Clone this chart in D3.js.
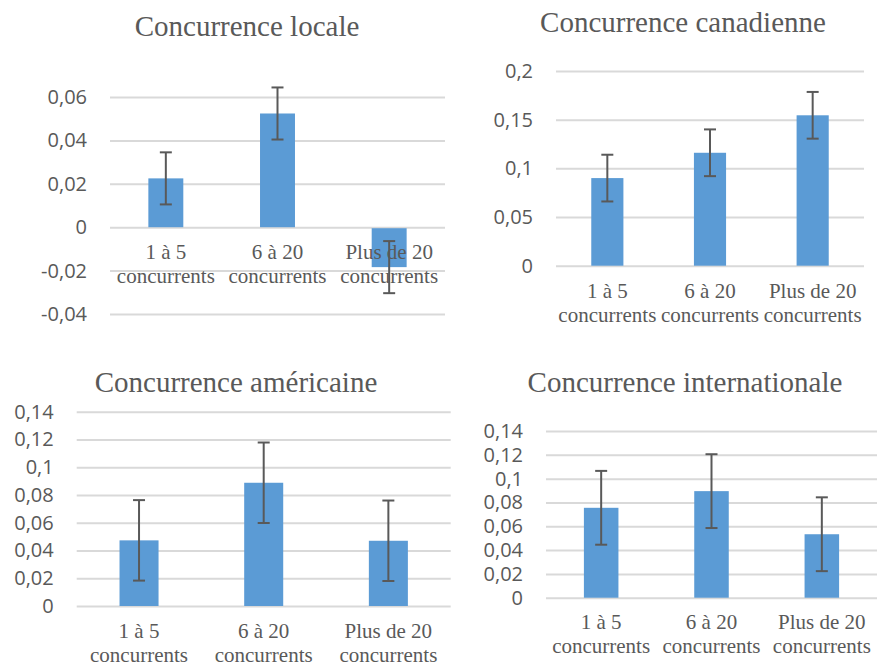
<!DOCTYPE html>
<html>
<head>
<meta charset="utf-8">
<script src="https://cdn.jsdelivr.net/npm/d3@7"></script>
<style>
  body { margin: 0; background: #fff; }
</style>
</head>
<body>
<div id="chart"></div>
<script>
// data
const categories = [["1 à 5", "concurrents"], ["6 à 20", "concurrents"], ["Plus de 20", "concurrents"]];
const titles = ["Concurrence locale", "Concurrence canadienne", "Concurrence américaine", "Concurrence internationale"];

const localValues = [0.0225, 0.0524, -0.0184];
const localErrors = [0.012, 0.012, 0.012];
const localTicks = [-0.04, -0.02, 0, 0.02, 0.04, 0.06];

const canadianValues = [0.090, 0.116, 0.1545];
const canadianErrors = [0.024, 0.024, 0.024];
const canadianTicks = [0, 0.05, 0.1, 0.15, 0.2];

const americanValues = [0.0473, 0.0888, 0.047];
const americanErrors = [0.029, 0.029, 0.029];
const americanTicks = [0, 0.02, 0.04, 0.06, 0.08, 0.1, 0.12, 0.14];

const internationalValues = [0.0755, 0.0895, 0.0533];
const internationalErrors = [0.031, 0.031, 0.031];
const internationalTicks = [0, 0.02, 0.04, 0.06, 0.08, 0.1, 0.12, 0.14];

const width = 877;
const height = 665;

const svg = d3.select("#chart")
    .append("svg")
    .attr("width", width)
    .attr("height", height)
    .attr("viewBox", [0, 0, width, height]);

const fr = d3.formatLocale({decimal: ",", thousands: " ", grouping: [3], currency: ["", ""], minus: "-"});
const fmt = fr.format("~g");

const textColor = "#595959";

// layout for each panel (plot box in pixels)
const panels = [
    {title: titles[0], values: localValues, errors: localErrors, ticks: localTicks,
        x0: 110, x1: 445, yBottom: 314, yTop: 97, titleX: 247, titleY: 36, labelY: 259},
    {title: titles[1], values: canadianValues, errors: canadianErrors, ticks: canadianTicks,
        x0: 556, x1: 864, yBottom: 265.7, yTop: 71, titleX: 683, titleY: 32, labelY: 298},
    {title: titles[2], values: americanValues, errors: americanErrors, ticks: americanTicks,
        x0: 76.7, x1: 450.7, yBottom: 606, yTop: 411.7, titleX: 236, titleY: 392, labelY: 638},
    {title: titles[3], values: internationalValues, errors: internationalErrors, ticks: internationalTicks,
        x0: 546, x1: 877, yBottom: 597.7, yTop: 431, titleX: 685, titleY: 392, labelY: 629}
];

panels.forEach(p => {
    const g = svg.append("g");

    const x = d3.scaleBand()
        .domain(d3.range(categories.length))
        .range([p.x0, p.x1])
        .paddingInner(0.687)
        .paddingOuter(0.687 / 2);

    const y = d3.scaleLinear()
        .domain(d3.extent(p.ticks))
        .range([p.yBottom, p.yTop]);

    // title
    g.append("text")
        .attr("x", p.titleX)
        .attr("y", p.titleY)
        .attr("text-anchor", "middle")
        .attr("font-family", "Liberation Serif")
        .attr("font-size", "29px")
        .attr("fill", textColor)
        .text(p.title);

    // gridlines + tick labels
    const axis = g.append("g")
        .attr("transform", "translate(" + p.x0 + ",0)")
        .call(d3.axisLeft(y)
            .tickValues(p.ticks)
            .tickSize(-(p.x1 - p.x0))
            .tickPadding(23)
            .tickFormat(fmt));
    axis.select(".domain").remove();
    axis.selectAll("line")
        .attr("stroke", "#d9d9d9")
        .attr("stroke-width", 2);
    axis.selectAll("text")
        .attr("font-family", "Open Sans")
        .attr("font-size", "20px")
        .attr("fill", textColor);

    // bars
    g.selectAll(".bar")
        .data(p.values)
        .enter()
        .append("rect")
        .attr("class", "bar")
        .attr("x", (d, i) => x(i))
        .attr("width", x.bandwidth())
        .attr("y", d => y(Math.max(0, d)) + (d < 0 ? 1 : 0))
        .attr("height", d => Math.abs(y(d) - y(0)) - (d < 0 ? 1 : 0))
        .attr("fill", "#5b9bd5");

    // category labels
    const lab = g.selectAll(".cat")
        .data(categories)
        .enter()
        .append("text")
        .attr("class", "cat")
        .attr("text-anchor", "middle")
        .attr("font-family", "Liberation Serif")
        .attr("font-size", "21px")
        .attr("fill", textColor);
    lab.each(function (lines, i) {
        const t = d3.select(this);
        lines.forEach((l, k) => {
            t.append("tspan")
                .attr("x", x(i) + x.bandwidth() / 2)
                .attr("y", p.labelY + k * 24)
                .text(l);
        });
    });

    // error bars
    const err = g.selectAll(".err")
        .data(p.values)
        .enter()
        .append("g")
        .attr("class", "err")
        .attr("stroke", "#595959")
        .attr("stroke-width", 2);
    err.append("line")
        .attr("x1", (d, i) => x(i) + x.bandwidth() / 2)
        .attr("x2", (d, i) => x(i) + x.bandwidth() / 2)
        .attr("y1", (d, i) => y(d + p.errors[i]))
        .attr("y2", (d, i) => y(d - p.errors[i]));
    [1, -1].forEach(s => {
        err.append("line")
            .attr("x1", (d, i) => x(i) + x.bandwidth() / 2 - 6)
            .attr("x2", (d, i) => x(i) + x.bandwidth() / 2 + 6)
            .attr("y1", (d, i) => y(d + s * p.errors[i]))
            .attr("y2", (d, i) => y(d + s * p.errors[i]));
    });
});
</script>
</body>
</html>
